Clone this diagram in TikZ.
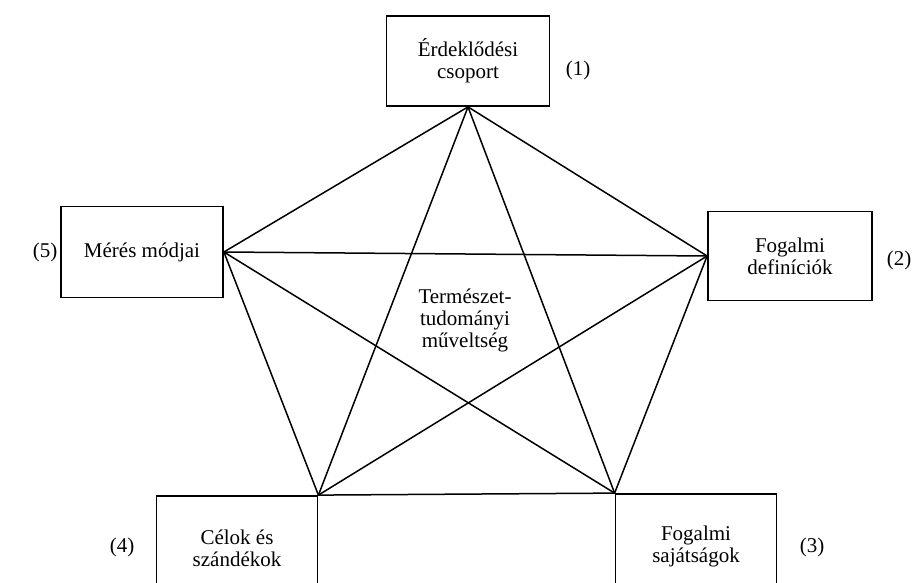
\documentclass[tikz,border=0pt]{standalone}
\usepackage{fontspec}
\setmainfont{Liberation Serif}
\begin{document}
\begin{tikzpicture}[x=1pt,y=-1pt,
	box/.style={draw, line width=1.8pt, minimum width=163pt, minimum height=90pt, align=center, inner sep=0pt, font=\fontsize{21}{22}\selectfont},
	num/.style={font=\fontsize{21}{22}\selectfont},
	edge/.style={line width=1.5pt}]
	\clip (0,0) rectangle (918,583);
	\node[box] (erd) at (468,61) {Érdeklődési\\csoport};
	\node[box, minimum width=164pt, minimum height=89pt] (def) at (790,256) {Fogalmi\\definíciók};
	\node[box, minimum width=161pt, minimum height=104pt] (saj) at (696,546) {Fogalmi\\sajátságok};
	\node[box, minimum width=161pt, minimum height=104pt] (cel) at (237,548) {Célok és\\szándékok};
	\node[box, minimum width=162pt, minimum height=91pt] (mer) at (142,252) {Mérés módjai};
	\node[align=center, font=\fontsize{21}{22}\selectfont] (ttm) at (465,320) {Természet-\\tudományi\\műveltség};
	\node[num] (n1) at (578,70) {(1)};
	\node[num] (n2) at (899,260) {(2)};
	\node[num] (n3) at (812,547) {(3)};
	\node[num] (n4) at (122,547) {(4)};
	\node[num] (n5) at (45,252) {(5)};
	% pentagon
	\draw[edge] (erd.south) -- (def.west) -- (saj.north west) -- (cel.north east) -- (mer.east) -- cycle;
	% star
	\draw[edge] (erd.south) -- (saj.north west);
	\draw[edge] (erd.south) -- (cel.north east);
	\draw[edge] (mer.east) -- (def.west);
	\draw[edge] (mer.east) -- (saj.north west);
	\draw[edge] (def.west) -- (cel.north east);
\end{tikzpicture}
\end{document}
